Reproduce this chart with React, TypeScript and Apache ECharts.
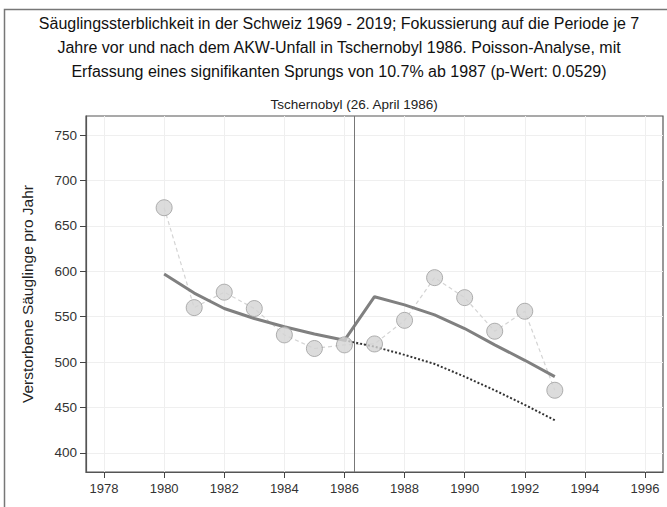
import React, { useEffect, useRef } from "react";
import * as echarts from "echarts";

const titleLines = [
  "Säuglingssterblichkeit in der Schweiz 1969 - 2019; Fokussierung auf die Periode je 7",
  "Jahre vor und nach dem AKW-Unfall in Tschernobyl 1986. Poisson-Analyse, mit",
  "Erfassung eines signifikanten Sprungs von 10.7% ab 1987 (p-Wert: 0.0529)",
];
const yAxisName = "Verstorbene Säuglinge pro Jahr";
const eventLabel = "Tschernobyl (26. April 1986)";
const eventYear = 1986.316;

const years = [1980, 1981, 1982, 1983, 1984, 1985, 1986, 1987, 1988, 1989, 1990, 1991, 1992, 1993];
const deaths = [670, 560, 577, 559, 530, 515, 519, 520, 546, 593, 571, 534, 556, 469];
const fitted = [597, 576, 559, 548, 539, 531, 524, 572, 563, 552, 537, 519, 502, 484];
const cfYears = [1986, 1987, 1988, 1989, 1990, 1991, 1992, 1993];
const counterfactual = [524, 517, 508, 498, 484, 469, 453, 436];

const xTicks = [1978, 1980, 1982, 1984, 1986, 1988, 1990, 1992, 1994, 1996];
const yTicks = [400, 450, 500, 550, 600, 650, 700, 750];

const FONT = "'Liberation Sans', Arial, sans-serif";

export default function App() {
  const ref = useRef<HTMLDivElement>(null);
  useEffect(() => {
    if (!ref.current) return;
    const chart = echarts.init(ref.current, null, { renderer: "svg" });
    const pts = (xs: number[], ys: number[]) => xs.map((x, i) => [x, ys[i]]);
    chart.setOption({
      animation: false,
      backgroundColor: "#fff",
      textStyle: { fontFamily: FONT },
      title: {
        text: titleLines.join("\n"),
        left: 334,
        top: 6,
        textAlign: "center",
        textStyle: { fontSize: 16, fontWeight: "normal", color: "#111", lineHeight: 24, fontFamily: FONT },
      },
      graphic: [
        {
          type: "polyline",
          shape: { points: [[4.5, 507], [4.5, 9.5], [667, 9.5]] },
          style: { stroke: "#777", lineWidth: 1.5, fill: "none" },
          silent: true,
        },
      ],
      grid: {
        left: 86,
        top: 116,
        right: 4,
        bottom: 35,
        show: true,
        borderColor: "#555",
        borderWidth: 1.2,
        backgroundColor: "transparent",
      },
      xAxis: {
        type: "value",
        min: 1977.4,
        max: 1996.6,
        axisLine: { show: true, lineStyle: { color: "#555", width: 1.2 } },
        axisTick: { show: true, length: 6, lineStyle: { color: "#444" }, customValues: xTicks },
        axisLabel: {
          customValues: xTicks,
          formatter: (v: number) => String(Math.round(v)),
          color: "#333",
          fontSize: 13,
          margin: 10,
          fontFamily: FONT,
        },
        splitLine: { show: true, lineStyle: { color: "#efefef", width: 1 } },
      },
      yAxis: {
        type: "value",
        min: 379,
        max: 771,
        name: yAxisName,
        nameLocation: "middle",
        nameGap: 51,
        nameTextStyle: { fontSize: 15.5, color: "#222", fontFamily: FONT },
        axisLine: { show: true, lineStyle: { color: "#555", width: 1.2 } },
        axisTick: { show: true, length: 6, lineStyle: { color: "#444" }, customValues: yTicks },
        axisLabel: {
          customValues: yTicks,
          formatter: (v: number) => String(Math.round(v)),
          color: "#333",
          fontSize: 13.5,
          margin: 9,
          fontFamily: FONT,
        },
        splitLine: { show: true, lineStyle: { color: "#efefef", width: 1 } },
      },
      series: [
        {
          type: "line",
          data: pts(years, deaths),
          showSymbol: false,
          symbol: "none",
          lineStyle: { color: "#d4d4d4", width: 1.2, type: [4, 3] },
          z: 1,
          markLine: {
            silent: true,
            symbol: "none",
            lineStyle: { color: "#777", width: 1, type: "solid" },
            label: {
              show: true,
              position: "end",
              formatter: eventLabel,
              color: "#222",
              fontSize: 13.5,
              distance: 5,
              fontFamily: FONT,
            },
            data: [{ xAxis: eventYear }],
          },
        },
        {
          type: "line",
          data: pts(cfYears, counterfactual),
          symbol: "none",
          lineStyle: { color: "#333", width: 2, type: [2, 2] },
          z: 2,
        },
        {
          type: "line",
          data: pts(years, fitted),
          symbol: "none",
          lineStyle: { color: "#808080", width: 3 },
          z: 3,
        },
        {
          type: "scatter",
          data: pts(years, deaths),
          symbolSize: 16,
          itemStyle: { color: "#d3d3d3", borderColor: "#9c9c9c", borderWidth: 1 },
          z: 4,
        },
      ],
    });
    return () => chart.dispose();
  }, []);
  return (
    <div
      ref={ref}
      style={{ position: "fixed", left: 0, top: 0, width: 667, height: 507 }}
    />
  );
}
